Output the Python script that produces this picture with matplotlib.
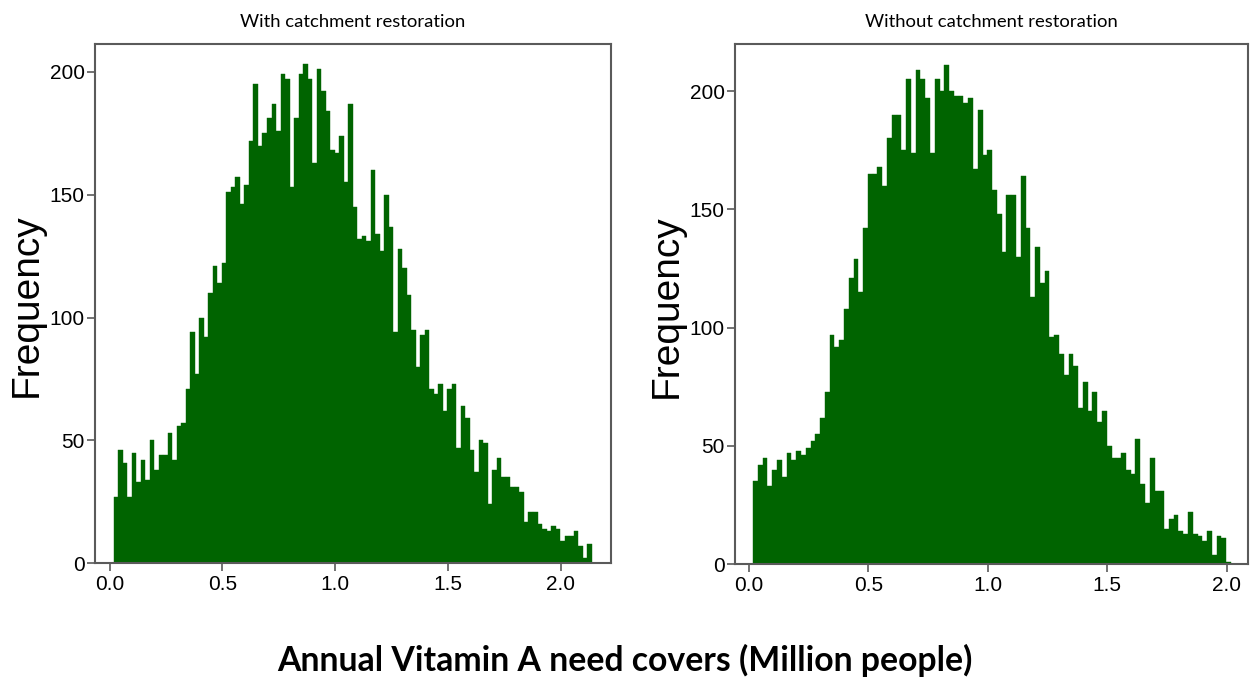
import numpy as np
import matplotlib
matplotlib.use("Agg")
import matplotlib.pyplot as plt
from matplotlib import font_manager

# ---------------- data ----------------
titles = ["With catchment restoration", "Without catchment restoration"]
x_label = "Annual Vitamin A need covers (Million people)"
y_label = "Frequency"
x_ticks = [0.0, 0.5, 1.0, 1.5, 2.0]
x_tick_labels = ["0.0", "0.5", "1.0", "1.5", "2.0"]
y_ticks = [0, 50, 100, 150, 200]
y_tick_labels = ["0", "50", "100", "150", "200"]

bin_width = 0.02
bin_start_with = 0.018
bin_start_without = 0.018

counts_with = [27, 46, 41, 27, 45, 33, 42, 34, 50, 38, 44, 44, 53, 42, 56, 57, 71, 94, 77, 100,
               92, 110, 121, 114, 122, 151, 153, 157, 146, 154, 172, 195, 170, 175,
               181, 187, 176, 199, 197, 153, 181, 199, 203, 197, 163, 201, 192, 184, 168, 167,
               174, 155, 187, 145, 132, 133, 131, 160, 134, 127, 150, 137, 94, 128, 120, 109,
               95, 80, 93, 95,
               71, 69, 73, 62, 71, 73, 47, 64, 59, 46, 37, 50, 49, 24, 38, 43, 35, 35, 31, 31,
               29, 17, 21, 21, 16, 14, 13, 15, 14, 9, 11, 11, 13, 7, 2, 8]

counts_without = [35, 42, 45, 33, 40, 44, 37, 47, 44, 48, 46, 49, 52, 55, 62, 73, 97, 92, 95, 108,
                  121, 129, 115, 142, 165, 165, 168, 160, 180, 190, 190, 175, 205,
                  174, 209, 205, 197, 174, 205, 200, 211, 200, 198, 198, 195, 197, 167, 192, 173,
                  175, 158, 148, 132, 156, 156, 130, 164, 142, 113, 134, 119, 124, 96, 97, 89, 80,
                  89, 84, 66, 77, 65, 73, 60, 65, 50, 45, 45, 47, 40, 38, 53, 34, 26, 45, 31, 31,
                  15, 19, 21, 14, 13, 22, 13, 12, 10, 14, 4, 12, 11, 1]

# ---------------- fonts ----------------
available = {f.name for f in font_manager.fontManager.ttflist}
tick_font = "Liberation Sans"
title_font = "Lato" if "Lato" in available else "Liberation Sans"
regular = "Liberation Sans"

bar_color = "#006400"
frame_color = "#5a5a5a"

fig = plt.figure(figsize=(12.54, 6.83), dpi=100)

W, H = 1254.0, 683.0
panels = [
    dict(rect=(95, 44, 611, 563.3), counts=counts_with, start=bin_start_with,
         xlim=(-0.065, 2.224), ylim=(0, 211.3), title=titles[0]),
    dict(rect=(735, 44, 1248, 564.3), counts=counts_without, start=bin_start_without,
         xlim=(-0.058, 2.089), ylim=(0, 219.9), title=titles[1]),
]

for p in panels:
    x0, y0, x1, y1 = p["rect"]
    ax = fig.add_axes([x0 / W, 1 - y1 / H, (x1 - x0) / W, (y1 - y0) / H])
    counts = np.asarray(p["counts"], dtype=float)
    lefts = p["start"] + bin_width * np.arange(len(counts))
    ax.bar(lefts, counts, width=bin_width, align="edge", color=bar_color,
           edgecolor=bar_color, linewidth=0.3)
    ax.set_xlim(*p["xlim"])
    ax.set_ylim(*p["ylim"])
    ax.set_xticks(x_ticks)
    ax.set_xticklabels(x_tick_labels, family=tick_font, fontsize=15)
    ax.set_yticks(y_ticks)
    ax.set_yticklabels(y_tick_labels, family=tick_font, fontsize=15)
    ax.tick_params(axis="both", direction="out", length=5.5, width=1.2,
                   color=frame_color, labelcolor="black")
    ax.tick_params(axis="x", pad=3)
    ax.tick_params(axis="y", pad=2)
    for s in ax.spines.values():
        s.set_color(frame_color)
        s.set_linewidth(1.5)
    ax.set_title(p["title"], family=title_font, fontsize=13.3, pad=12)
    ax.text(-0.133, 0.497, y_label, transform=ax.transAxes, rotation=90,
            ha="center", va="center", family=regular, fontsize=28)

fig.text(625 / W, 1 - 660 / H, x_label, ha="center", va="center",
         family=title_font, fontweight="bold", fontsize=24.3)

fig.savefig("out.png", dpi=100)
